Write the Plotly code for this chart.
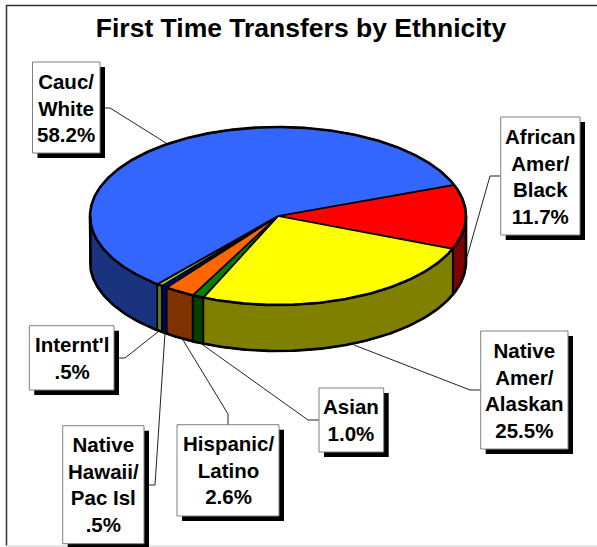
import numpy as np
import plotly.graph_objects as go

# --- data ---
categories = ["African Amer/ Black", "Native Amer/ Alaskan", "Asian", "Hispanic/ Latino",
              "Native Hawaii/ Pac Isl", "Internt'l", "Cauc/ White"]
label_lines = [["African", "Amer/", "Black"], ["Native", "Amer/", "Alaskan"], ["Asian"],
               ["Hispanic/", "Latino"], ["Native", "Hawaii/", "Pac Isl"], ["Internt'l"],
               ["Cauc/", "White"]]
values = [11.7, 25.5, 1.0, 2.6, 0.5, 0.5, 58.2]
top_colors = ["#FF0000", "#FFFF00", "#008000", "#FF6600", "#000080", "#99CC33", "#3366FF"]
side_colors = ["#800000", "#808000", "#004000", "#803300", "#000070", "#5A7F26", "#1A337F"]
title = "First Time Transfers by Ethnicity"

# --- layout constants (pixels) ---
W, H = 597, 547
CX, CY, RX, RY, DEPTH = 278, 216, 188, 89, 46
START = 20.5
# label box: x0, y0, x1, y1
boxes = [(500.7, 117, 580, 235), (480.7, 331, 568, 449), (319, 388, 383.7, 452),
         (177, 424.7, 279, 516), (62.7, 425.7, 144, 543.7), (29.3, 325.7, 114, 390),
         (32.5, 62, 100, 153)]
leaders = [[(500.7, 176), (490, 176), (467, 257)],
           [(481, 390), (470, 390), (354, 345)],
           [(319, 420), (308, 420), (203, 345)],
           [(228, 425), (228, 414), (183, 340)],
           [(144, 485), (155, 485), (165, 333)],
           [(114, 358), (125, 358), (159, 331)],
           [(100, 108), (110, 108), (166, 143)]]

def arc(a0, a1, dy=0):
    n = max(2, int(abs(a1 - a0) * 2) + 2)
    t = np.radians(np.linspace(a0, a1, n))
    return CX + RX * np.cos(t), CY - RY * np.sin(t) + dy

fig = go.Figure()
LINE = dict(color="black", width=1.7)
OUTER = dict(color="black", width=2.6)

def poly(x, y, color, line=LINE):
    fig.add_trace(go.Scatter(x=list(x), y=list(y), mode="lines", fill="toself", fillcolor=color,
                             line=line, hoverinfo="skip", showlegend=False))

def outline(x, y):
    fig.add_trace(go.Scatter(x=list(x), y=list(y), mode="lines", line=OUTER,
                             hoverinfo="skip", showlegend=False))

# slice angles, clockwise from START
edges = START - np.cumsum([0] + values) * 3.6
spans = list(zip(edges[:-1], edges[1:]))

# side walls: only the portion facing the viewer (-180..0 degrees)
for (a0, a1), c in zip(spans, side_colors):
    s0 = min(a0, 0)
    s1 = max(a1, -180)
    if s0 > s1:
        tx, ty = arc(s0, s1)
        bx, by = arc(s1, s0, DEPTH)
        poly(np.r_[tx, bx, tx[0]], np.r_[ty, by, ty[0]], c)

# top faces
for (a0, a1), c in zip(spans, top_colors):
    x, y = arc(a0, a1)
    poly(np.r_[CX, x, CX], np.r_[CY, y, CY], c)

# heavier outer rim: top ellipse plus the silhouette of the wall
ex, ey = arc(0, 360)
outline(ex, ey)
bx, by = arc(-180, 0, DEPTH)
outline(np.r_[CX - RX, bx, CX + RX], np.r_[CY, by, CY])

shapes = []
# frame
frame = dict(type="line", xref="x", yref="y", layer="below")
shapes.append(dict(frame, x0=6.5, x1=6.5, y0=5, y1=546, line=dict(color="#333333", width=1.5)))
shapes.append(dict(frame, x0=6, x1=597, y0=5.5, y1=5.5, line=dict(color="#333333", width=1.5)))
shapes.append(dict(frame, x0=6, x1=597, y0=546, y1=546, line=dict(color="#DDDDDD", width=1.5)))

annotations = []
for (x0, y0, x1, y1), pts, lines, v in zip(boxes, leaders, label_lines, values):
    path = "M " + " L ".join(f"{px},{py}" for px, py in pts)
    shapes.append(dict(type="path", path=path, xref="x", yref="y", layer="above",
                       line=dict(color="#222222", width=1)))
    shapes.append(dict(type="rect", xref="x", yref="y", x0=x0 + 5, x1=x1 + 5, y0=y0 + 5, y1=y1 + 5,
                       fillcolor="black", line=dict(width=0), layer="above"))
    shapes.append(dict(type="rect", xref="x", yref="y", x0=x0, x1=x1, y0=y0, y1=y1,
                       fillcolor="white", line=dict(color="#808080", width=1), layer="above"))
    pct = f"{v:.1f}".lstrip("0") + "%"
    annotations.append(dict(x=(x0 + x1) / 2, y=(y0 + y1) / 2, xref="x", yref="y",
                            text="<br>".join(lines + [pct]), showarrow=False,
                            xanchor="center", yanchor="middle", align="center",
                            font=dict(family="Liberation Sans", size=20.5, color="black", weight="bold")))

fig.update_layout(
    width=W, height=H, autosize=False,
    margin=dict(l=0, r=0, t=0, b=0),
    paper_bgcolor="white", plot_bgcolor="white",
    showlegend=False,
    title=dict(text=f"<b>{title}</b>", x=301 / W, xanchor="center", y=1 - 28 / H, yanchor="middle",
               font=dict(family="Liberation Sans", size=26.5, color="black")),
    xaxis=dict(range=[0, W], visible=False, fixedrange=True),
    yaxis=dict(range=[H, 0], visible=False, fixedrange=True),
    shapes=shapes, annotations=annotations,
)
fig.write_html("out.html", config=dict(displayModeBar=False),
               post_script="document.body.style.margin='0';document.documentElement.style.overflow='hidden';")
